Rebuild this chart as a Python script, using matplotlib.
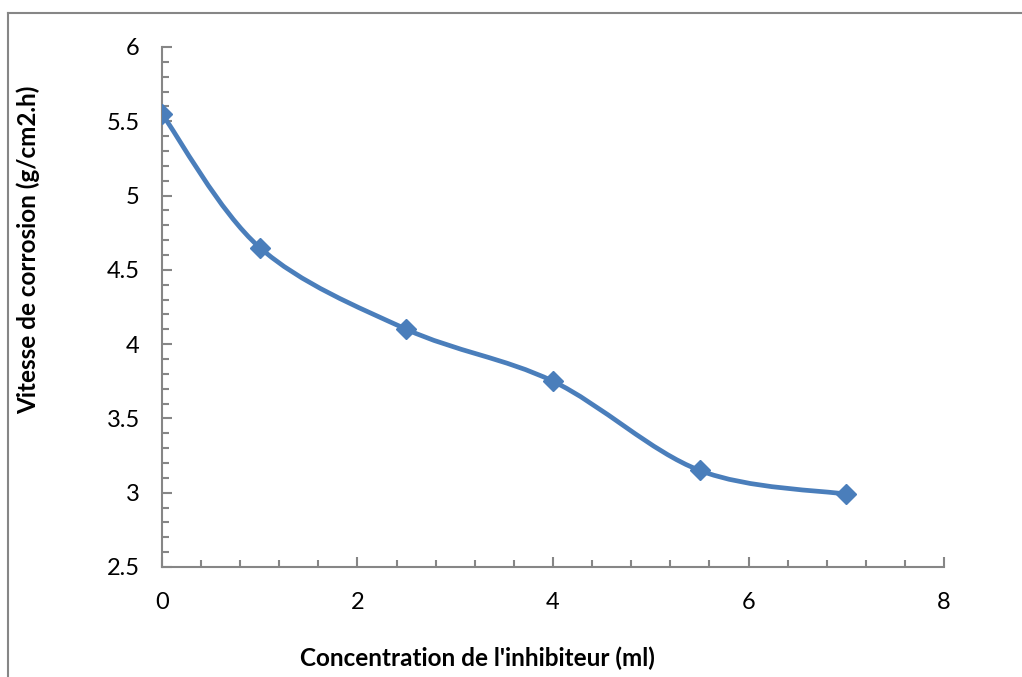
import matplotlib
matplotlib.use('Agg')
import matplotlib.pyplot as plt
from matplotlib.path import Path
from matplotlib.patches import PathPatch
from matplotlib.lines import Line2D
from matplotlib.ticker import MultipleLocator
import numpy as np

plt.rcParams['font.family'] = ['Lato', 'DejaVu Sans']

conc = [0, 1, 2.5, 4, 5.5, 7]
vitesse = [5.55, 4.65, 4.10, 3.75, 3.15, 2.99]

blue = '#4a7ebb'
grey = '#868686'


def smooth_path(xs, ys):
    # Catmull-Rom through the points, written as cubic Bezier segments
    pts = np.column_stack([xs, ys]).astype(float)
    ext = np.vstack([pts[0], pts, pts[-1]])
    verts = [pts[0]]
    codes = [Path.MOVETO]
    for i in range(1, len(ext) - 2):
        p0, p1, p2, p3 = ext[i - 1], ext[i], ext[i + 1], ext[i + 2]
        c1 = p1 + (p2 - p0) / 6.0
        c2 = p2 - (p3 - p1) / 6.0
        verts += [c1, c2, p2]
        codes += [Path.CURVE4] * 3
    return Path(verts, codes)


fig = plt.figure(figsize=(10.22, 6.77), dpi=100)
ax = fig.add_axes([0.1585, 0.1625, 0.7652, 0.7681])

ax.add_patch(PathPatch(smooth_path(conc, vitesse), facecolor='none',
                       edgecolor=blue, linewidth=3.4, capstyle='round',
                       joinstyle='round', zorder=2))
ax.plot(conc, vitesse, linestyle='none', marker='D', markersize=10.5,
        color=blue, zorder=3)

ax.set_xlim(0, 8)
ax.set_ylim(2.5, 6)
ax.xaxis.set_major_locator(MultipleLocator(2))
ax.xaxis.set_minor_locator(MultipleLocator(0.4))
ax.yaxis.set_major_locator(MultipleLocator(0.5))
ax.yaxis.set_minor_locator(MultipleLocator(0.1))
ax.xaxis.set_major_formatter(plt.FuncFormatter(lambda v, p: f'{v:g}'))
ax.yaxis.set_major_formatter(plt.FuncFormatter(lambda v, p: f'{v:g}'))

for s in ('top', 'right'):
    ax.spines[s].set_visible(False)
for s in ('left', 'bottom'):
    ax.spines[s].set_color(grey)
    ax.spines[s].set_linewidth(1.5)

ax.tick_params(which='major', direction='in', length=7, width=1.5,
               color=grey, labelsize=17, labelcolor='black')
ax.tick_params(which='minor', direction='in', length=5, width=1.5, color=grey)
ax.tick_params(axis='y', pad=16)
ax.tick_params(axis='x', pad=18)

ax.set_xlabel("Concentration de l'inhibiteur (ml)", fontsize=17.5,
              fontweight='bold')
ax.set_ylabel('Vitesse de corrosion (g/cm2.h)', fontsize=17.5,
              fontweight='bold')
ax.yaxis.set_label_coords(-0.156, 0.61)
ax.xaxis.set_label_coords(0.404, -0.153)

# chart area border, cropped at right and bottom
fig.add_artist(Line2D([8 / 1022, 1], [1 - 13 / 677] * 2, color=grey,
                      linewidth=1.5, transform=fig.transFigure))
fig.add_artist(Line2D([8 / 1022] * 2, [0, 1 - 13 / 677], color=grey,
                      linewidth=1.5, transform=fig.transFigure))

fig.savefig('out.png', dpi=100, facecolor='white')
